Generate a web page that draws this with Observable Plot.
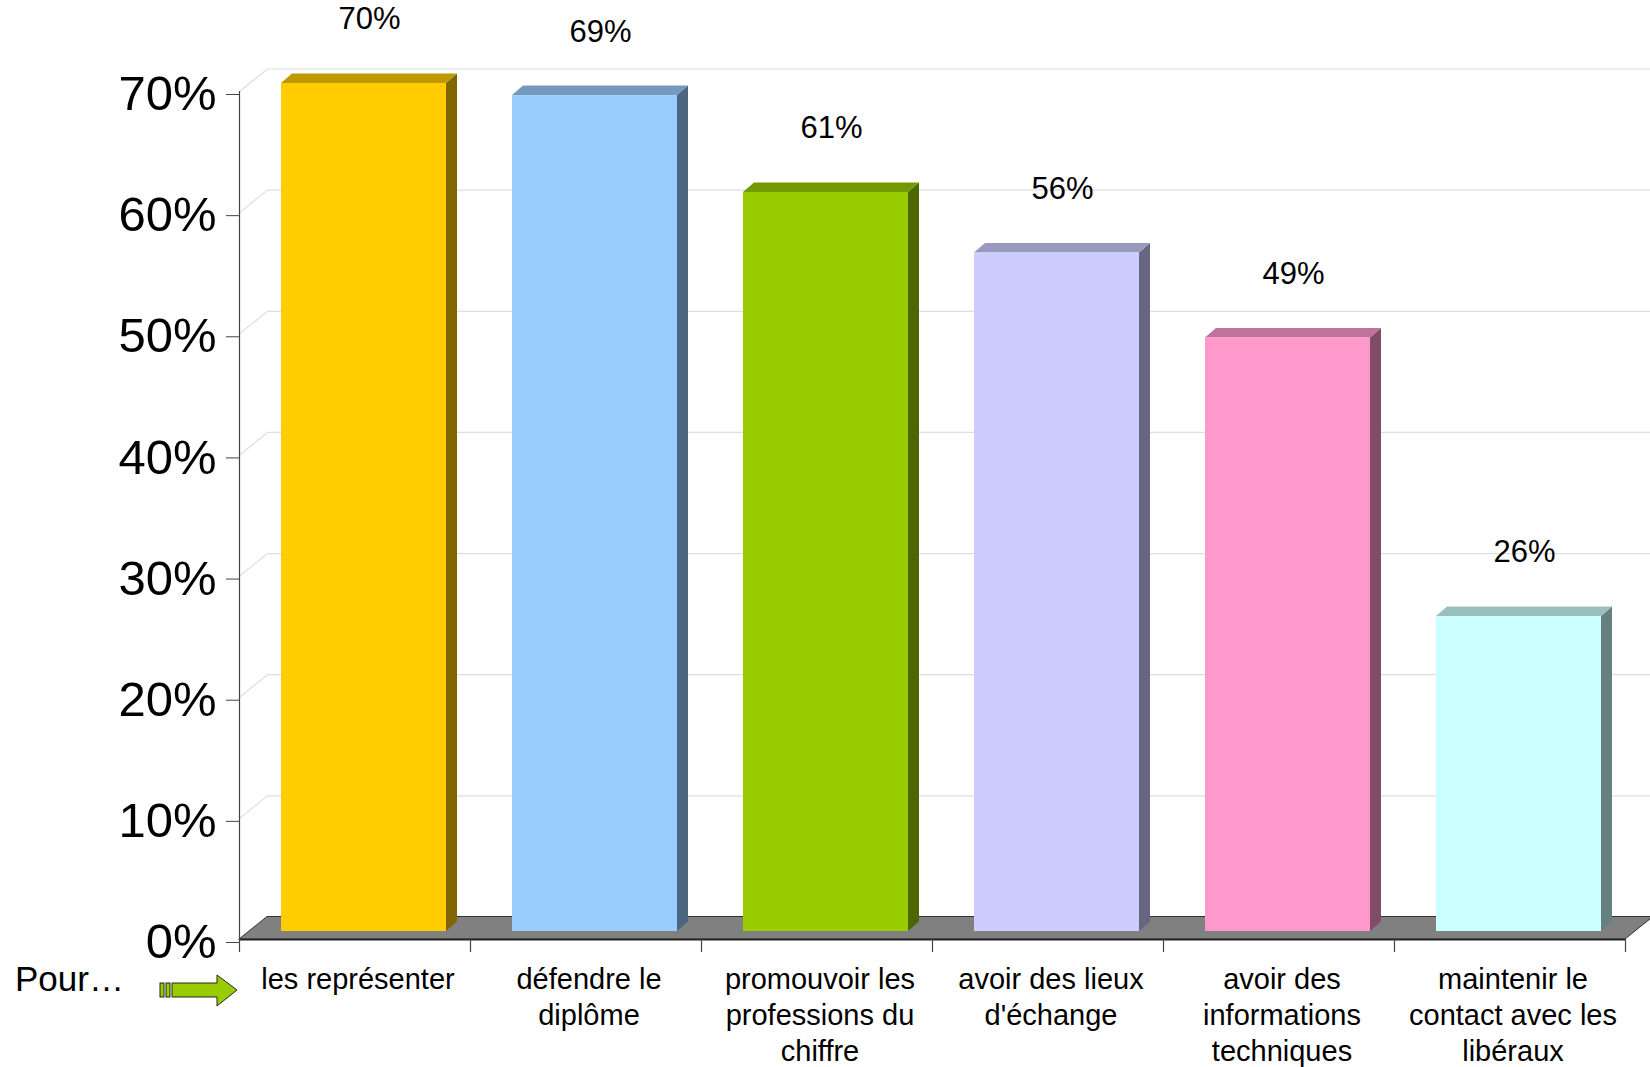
<!DOCTYPE html>
<html>
<head>
<meta charset="utf-8">
<script src="https://cdn.jsdelivr.net/npm/d3@7"></script>
<script src="https://cdn.jsdelivr.net/npm/@observablehq/plot@0.6"></script>
<style>
  html, body { margin: 0; padding: 0; background: white; overflow: hidden; }
  #wrap { position: relative; width: 1650px; height: 1067px; font-family: 'Liberation Sans', Arial, sans-serif; }
  #pour { position: absolute; left: 15px; top: 961px; font-size: 35px; color: #000; line-height: 1; }
</style>
</head>
<body>
<div id="wrap">
  <div id="chart"></div>
  <div id="pour">Pour…</div>
  <svg id="arrow" width="260" height="1067" viewBox="0 0 260 1067" style="position:absolute;left:0;top:0;pointer-events:none">
    <rect x="160" y="983" width="4" height="14" fill="#99cc00" stroke="#222" stroke-width="1"/>
    <rect x="166" y="983" width="4" height="14" fill="#99cc00" stroke="#222" stroke-width="1"/>
    <polygon points="172,983 217,983 217,975 237,990 217,1006 217,997 172,997" fill="#99cc00" stroke="#222" stroke-width="1"/>
  </svg>
</div>
<script>
// ---- data ----
const categories = [
  "les représenter",
  "défendre le\ndiplôme",
  "promouvoir les\nprofessions du\nchiffre",
  "avoir des lieux\nd'échange",
  "avoir des\ninformations\ntechniques",
  "maintenir le\ncontact avec les\nlibéraux"
];
const values = [70, 69, 61, 56, 49, 26];
const frontColors = ["#FFCC00", "#99CCFF", "#99CC00", "#CCCCFF", "#FF99CC", "#CCFFFF"];
const topColors   = ["#BF9900", "#7399BF", "#739900", "#9999BF", "#BF7399", "#99BFBF"];
const sideColors  = ["#806600", "#4C6680", "#4C6600", "#666680", "#804C66", "#668080"];
const yTicks = [0, 10, 20, 30, 40, 50, 60, 70];

// ---- layout ----
const W = 1650, H = 1067, ML = 239, MR = 25, MT = 91, MB = 128;
const n = categories.length;
const yMax = 70;
const kx = (W - ML - MR) / n;        // px per category unit
const ky = (H - MT - MB) / yMax;     // px per percent
const px = p => p / kx;
const py = p => p / ky;
const D = {x: px(28), y: py(22.5)};          // full depth of the floor
const S = {x: px(9), y: py(8)};              // bar plane shift
const B = {x: px(11), y: py(9.5)};           // bar depth
const barW = px(165);

const bars = values.map((v, i) => {
  const xl = i + (1 - barW) / 2 + S.x;
  return {i, v, xl, xr: xl + barW, y0: S.y, y1: v + S.y};
});
const topRows = bars.flatMap(b => [
  {id: b.i, y: b.y1, x1: b.xl, x2: b.xr, c: topColors[b.i]},
  {id: b.i, y: b.y1 + B.y, x1: b.xl + B.x, x2: b.xr + B.x, c: topColors[b.i]}
]);
const sideRows = bars.flatMap(b => [
  {id: b.i, x: b.xr, y1: b.y0, y2: b.y1, c: sideColors[b.i]},
  {id: b.i, x: b.xr + B.x, y1: b.y0 + B.y, y2: b.y1 + B.y, c: sideColors[b.i]}
]);
const floorRows = [
  {y: 0, x1: 0, x2: n},
  {y: D.y, x1: D.x, x2: n + D.x}
];
const gridV = yTicks.filter(t => t > 0);

const chart = Plot.plot({
  width: W, height: H,
  marginLeft: ML, marginRight: MR, marginTop: MT, marginBottom: MB,
  x: {domain: [0, n], axis: null},
  y: {domain: [0, yMax], axis: null},
  color: {type: "identity"},
  style: {fontFamily: "'Liberation Sans', Arial, sans-serif", background: "white", overflow: "hidden"},
  marks: [
    // back wall & side wall grid lines
    Plot.link(gridV, {x1: () => 0, y1: d => d, x2: () => D.x, y2: d => d + D.y, stroke: "#dedede", strokeWidth: 1.2}),
    Plot.link(gridV, {x1: () => D.x, y1: d => d + D.y, x2: () => n + D.x + px(60), y2: d => d + D.y, stroke: "#dedede", strokeWidth: 1.2}),
    // floor
    Plot.areaX(floorRows, {y: "y", x1: "x1", x2: "x2", fill: "#808080", stroke: "#333", strokeWidth: 1}),
    Plot.ruleY([0], {x1: () => 0, x2: () => n, stroke: "#222", strokeWidth: 2}),
    // bars
    Plot.areaY(sideRows, {x: "x", y1: "y1", y2: "y2", z: "id", fill: "c"}),
    Plot.areaX(topRows, {y: "y", x1: "x1", x2: "x2", z: "id", fill: "c"}),
    Plot.rect(bars, {x1: "xl", x2: "xr", y1: "y0", y2: "y1", fill: d => frontColors[d.i]}),
    // axis line & category ticks
    Plot.ruleX([0], {y1: () => -py(13), y2: () => yMax, stroke: "#444", strokeWidth: 1.2}),
    Plot.ruleX(d3.range(1, n + 1), {y1: () => -py(13), y2: () => 0, stroke: "#444", strokeWidth: 1.2}),
    Plot.axisY(yTicks, {tickFormat: d => d + "%", tickSize: 13, tickPadding: 10, fontSize: 49, stroke: "#444", fill: "black", dy: 3}),
    // data labels
    Plot.text(bars, {x: d => d.i + 0.5 + px(14.5), y: "v", text: d => d.v + "%", dy: -72, fontSize: 31, fill: "black"}),
    // category labels
    Plot.text(categories, {x: (d, i) => i + 0.5 + px(3), y: () => 0, text: d => d, lineAnchor: "top", dy: 24, fontSize: 29, lineHeight: 1.24, fill: "black"})
  ]
});
document.getElementById("chart").appendChild(chart);
</script>
</body>
</html>
